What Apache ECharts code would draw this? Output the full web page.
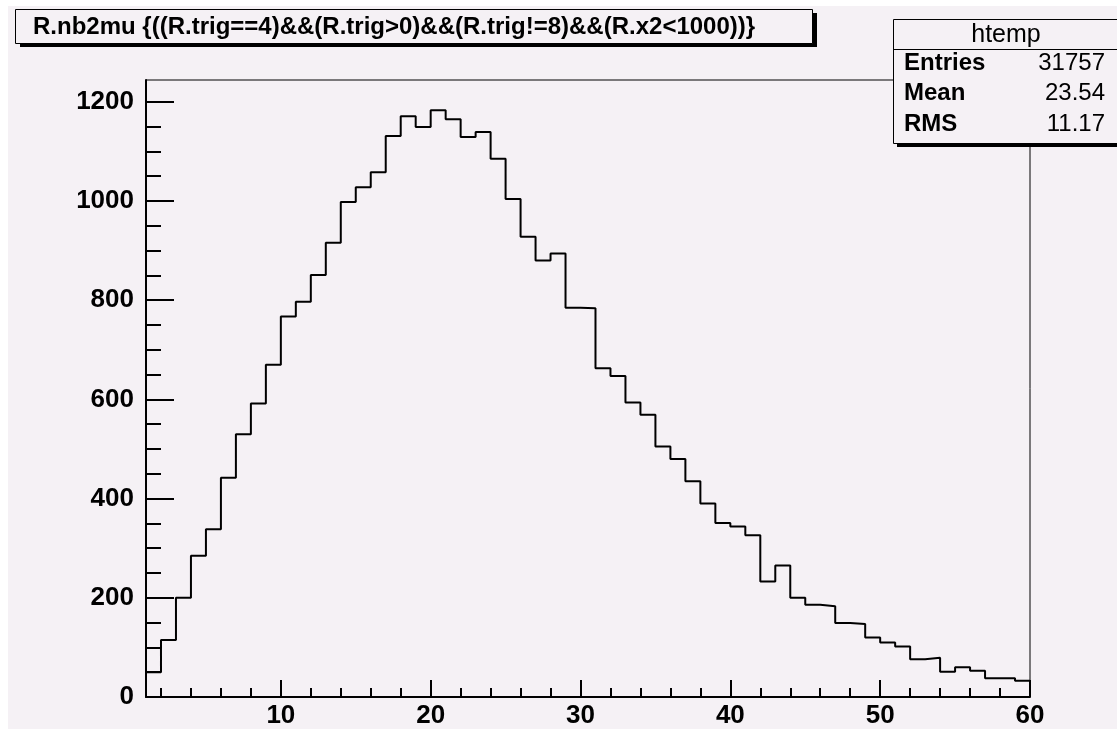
<!DOCTYPE html>
<html><head><meta charset="utf-8">
<script src="https://cdn.jsdelivr.net/npm/echarts@6/dist/echarts.min.js"></script>
<style>
html,body{margin:0;padding:0;background:#ffffff;width:1117px;height:729px;overflow:hidden;}
#main{position:absolute;left:8px;top:6px;width:1109px;height:723px;}
</style></head><body><div id="main"></div>
<script>
// ---- data ----
const binLowEdges = [1,2,3,4,5,6,7,8,9,10,11,12,13,14,15,16,17,18,19,20,21,22,23,24,25,26,27,28,29,30,31,32,33,34,35,36,37,38,39,40,41,42,43,44,45,46,47,48,49,50,51,52,53,54,55,56,57,58,59];
const binUpperEdge = 60;
const counts = [50,115,200,285,338,442,530,592,670,767,
                797,851,916,998,1028,1058,1131,1171,1149,1183,
                1165,1129,1139,1085,1004,928,880,894,785,784,
                663,647,594,569,505,480,435,390,351,344,
                326,233,265,200,186,183,149,147,120,110,
                102,76,79,51,60,53,38,38,33];
const xTickValues = [10,20,30,40,50,60];
const xMinorTickValues = [2,4,6,8,12,14,16,18,22,24,26,28,32,34,36,38,42,44,46,48,52,54,56,58];
const yTickValues = [0,200,400,600,800,1000,1200];
const yMinorTickValues = [50,100,150,250,300,350,450,500,550,650,700,750,850,900,950,1050,1100,1150];
const titleText = 'R.nb2mu {((R.trig==4)&&(R.trig>0)&&(R.trig!=8)&&(R.x2<1000))}';
const statsName = 'htemp';
const statsLabels = ['Entries','Mean','RMS'];
const statsValues = ['31757','23.54','11.17'];
const xMin = 1, xMax = 60, yMax = 1244;

// ---- build ----
const bg = '#f5f1f5';
const FONT = '"Liberation Sans", Arial, Helvetica, sans-serif';
const stepData = binLowEdges.map((e, i) => [e, counts[i]]);
stepData.push([binUpperEdge, counts[counts.length - 1]]);

const chart = echarts.init(document.getElementById('main'), null, {renderer: 'canvas'});

const statsRows = statsLabels.map((lab, i) => ([
  {type: 'text', z: 102, style: {text: lab, x: 896, y: 57 + i * 30.5, font: 'bold 24px ' + FONT, fill: '#000', textAlign: 'left', textVerticalAlign: 'middle'}},
  {type: 'text', z: 102, style: {text: statsValues[i], x: 1097, y: 57 + i * 30.5, font: '24px ' + FONT, fill: '#000', textAlign: 'right', textVerticalAlign: 'middle'}}
])).flat();

chart.setOption({
  animation: false,
  backgroundColor: bg,
  grid: {left: 138, top: 74, right: 87, bottom: 31, show: true, borderColor: '#000', borderWidth: 1, backgroundColor: 'transparent'},
  xAxis: [
    {type: 'value', min: xMin, max: xMax, position: 'bottom',
     axisLine: {show: true, onZero: false, lineStyle: {color: '#000', width: 2}},
     axisTick: {show: true, inside: true, length: 17, customValues: xTickValues, lineStyle: {color: '#000', width: 2}},
     axisLabel: {show: true, customValues: xTickValues, formatter: v => String(v), color: '#000', fontSize: 26, fontWeight: 'bold', fontFamily: FONT, margin: 6},
     splitLine: {show: false}},
    {type: 'value', min: xMin, max: xMax, position: 'bottom',
     axisLine: {show: false, onZero: false},
     axisTick: {show: true, inside: true, length: 9, customValues: xMinorTickValues, lineStyle: {color: '#000', width: 2}},
     axisLabel: {show: false},
     splitLine: {show: false}}
  ],
  yAxis: [
    {type: 'value', min: 0, max: yMax, position: 'left',
     axisLine: {show: true, onZero: false, lineStyle: {color: '#000', width: 2}},
     axisTick: {show: true, inside: true, length: 28, customValues: yTickValues, lineStyle: {color: '#000', width: 2}},
     axisLabel: {show: true, customValues: yTickValues, formatter: v => String(v), color: '#000', fontSize: 26, fontWeight: 'bold', fontFamily: FONT, margin: 12},
     splitLine: {show: false}},
    {type: 'value', min: 0, max: yMax, position: 'left', offset: 0,
     axisLine: {show: false, onZero: false},
     axisTick: {show: true, inside: true, length: 15, customValues: yMinorTickValues, lineStyle: {color: '#000', width: 2}},
     axisLabel: {show: false},
     splitLine: {show: false}}
  ],
  series: [{
    type: 'line', xAxisIndex: 0, yAxisIndex: 0, step: 'end', symbol: 'none',
    lineStyle: {color: '#000', width: 2}, data: stepData, z: 5
  }],
  graphic: [
    // title box
    {type: 'rect', z: 100, shape: {x: 12, y: 7, width: 797, height: 34}, style: {fill: '#000'}},
    {type: 'rect', z: 101, shape: {x: 7.5, y: 3.5, width: 797, height: 34}, style: {fill: bg, stroke: '#000', lineWidth: 1}},
    {type: 'text', z: 102, style: {text: titleText, x: 25, y: 21, font: 'bold 24px ' + FONT, fill: '#000', textAlign: 'left', textVerticalAlign: 'middle'}},
    // stats box
    {type: 'rect', z: 100, shape: {x: 889, y: 17, width: 240, height: 124}, style: {fill: '#000'}},
    {type: 'rect', z: 101, shape: {x: 885.5, y: 13.5, width: 240, height: 124}, style: {fill: bg, stroke: '#000', lineWidth: 1}},
    {type: 'line', z: 102, shape: {x1: 885, y1: 43.5, x2: 1109, y2: 43.5}, style: {stroke: '#000', lineWidth: 1}},
    {type: 'text', z: 102, style: {text: statsName, x: 998, y: 29, font: '25px ' + FONT, fill: '#000', textAlign: 'center', textVerticalAlign: 'middle'}}
  ].concat(statsRows)
});
</script></body></html>
